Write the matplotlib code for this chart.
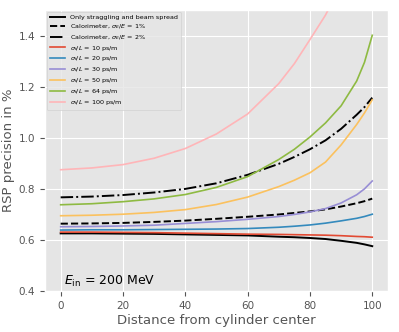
import numpy as np
import matplotlib
matplotlib.use('Agg')
import matplotlib.pyplot as plt

plt.style.use('ggplot')

# distance from cylinder center
x = [0, 10, 20, 30, 40, 50, 60, 70, 75, 80, 85, 90, 95, 97.5, 100]

# RSP precision in %
only_strag = [0.626, 0.626, 0.625, 0.624, 0.622, 0.620, 0.618, 0.613, 0.611, 0.608, 0.604, 0.597, 0.589, 0.583, 0.576]
calo_1 = [0.664, 0.665, 0.667, 0.671, 0.676, 0.683, 0.691, 0.700, 0.706, 0.712, 0.720, 0.731, 0.744, 0.752, 0.762]
calo_2 = [0.767, 0.770, 0.776, 0.786, 0.800, 0.822, 0.855, 0.898, 0.925, 0.955, 0.990, 1.035, 1.090, 1.120, 1.157]
t10 = [0.631, 0.631, 0.630, 0.629, 0.627, 0.625, 0.623, 0.622, 0.621, 0.620, 0.619, 0.617, 0.614, 0.613, 0.611]
t20 = [0.639, 0.640, 0.640, 0.641, 0.642, 0.643, 0.645, 0.650, 0.654, 0.659, 0.666, 0.675, 0.685, 0.692, 0.701]
t30 = [0.652, 0.653, 0.655, 0.658, 0.665, 0.672, 0.681, 0.692, 0.700, 0.710, 0.723, 0.745, 0.777, 0.800, 0.831]
t50 = [0.695, 0.697, 0.701, 0.708, 0.719, 0.739, 0.768, 0.809, 0.834, 0.863, 0.905, 0.972, 1.052, 1.097, 1.149]
t64 = [0.738, 0.742, 0.750, 0.761, 0.778, 0.806, 0.848, 0.915, 0.955, 1.003, 1.058, 1.125, 1.222, 1.295, 1.401]
x100 = [0, 10, 20, 30, 40, 50, 60, 70, 75, 80, 85, 90]
t100 = [0.875, 0.882, 0.895, 0.920, 0.958, 1.015, 1.093, 1.212, 1.290, 1.384, 1.480, 1.600]

fig = plt.figure(figsize=(3.99, 3.32), dpi=100)
ax = fig.add_axes([0.113, 0.123, 0.859, 0.847])

ax.plot(x, only_strag, color='black', lw=1.4, label='Only straggling and beam spread')
ax.plot(x, calo_1, color='black', lw=1.4, ls='--', label=r'Calorimeter, $\sigma_E/E$ = 1%')
ax.plot(x, calo_2, color='black', lw=1.4, ls='-.', label=r'Calorimeter, $\sigma_E/E$ = 2%')
ax.plot(x, t10, color='#E24A33', lw=1.2, label=r'$\sigma_t/L$ = 10 ps/m')
ax.plot(x, t20, color='#348ABD', lw=1.2, label=r'$\sigma_t/L$ = 20 ps/m')
ax.plot(x, t30, color='#988ED5', lw=1.2, label=r'$\sigma_t/L$ = 30 ps/m')
ax.plot(x, t50, color='#FBC15E', lw=1.2, label=r'$\sigma_t/L$ = 50 ps/m')
ax.plot(x, t64, color='#8EBA42', lw=1.2, label=r'$\sigma_t/L$ = 64 ps/m')
ax.plot(x100, t100, color='#FFB5B8', lw=1.2, label=r'$\sigma_t/L$ = 100 ps/m')

ax.set_xlim(-5, 105)
ax.set_ylim(0.4, 1.5)
ax.set_yticks([0.4, 0.6, 0.8, 1.0, 1.2, 1.4])
ax.tick_params(labelsize=7.5)
ax.set_xlabel('Distance from cylinder center', fontsize=9.5, labelpad=2)
ax.set_ylabel('RSP precision in %', fontsize=9.5, labelpad=3)

ax.text(1, 0.425, r'$E_{\rm in}$ = 200 MeV', fontsize=9, color='black')
ax.legend(loc='upper left', fontsize=4.6, handlelength=2.3, labelspacing=0.3,
          borderpad=0.5, borderaxespad=0.25)

fig.savefig('out.png', dpi=100)
